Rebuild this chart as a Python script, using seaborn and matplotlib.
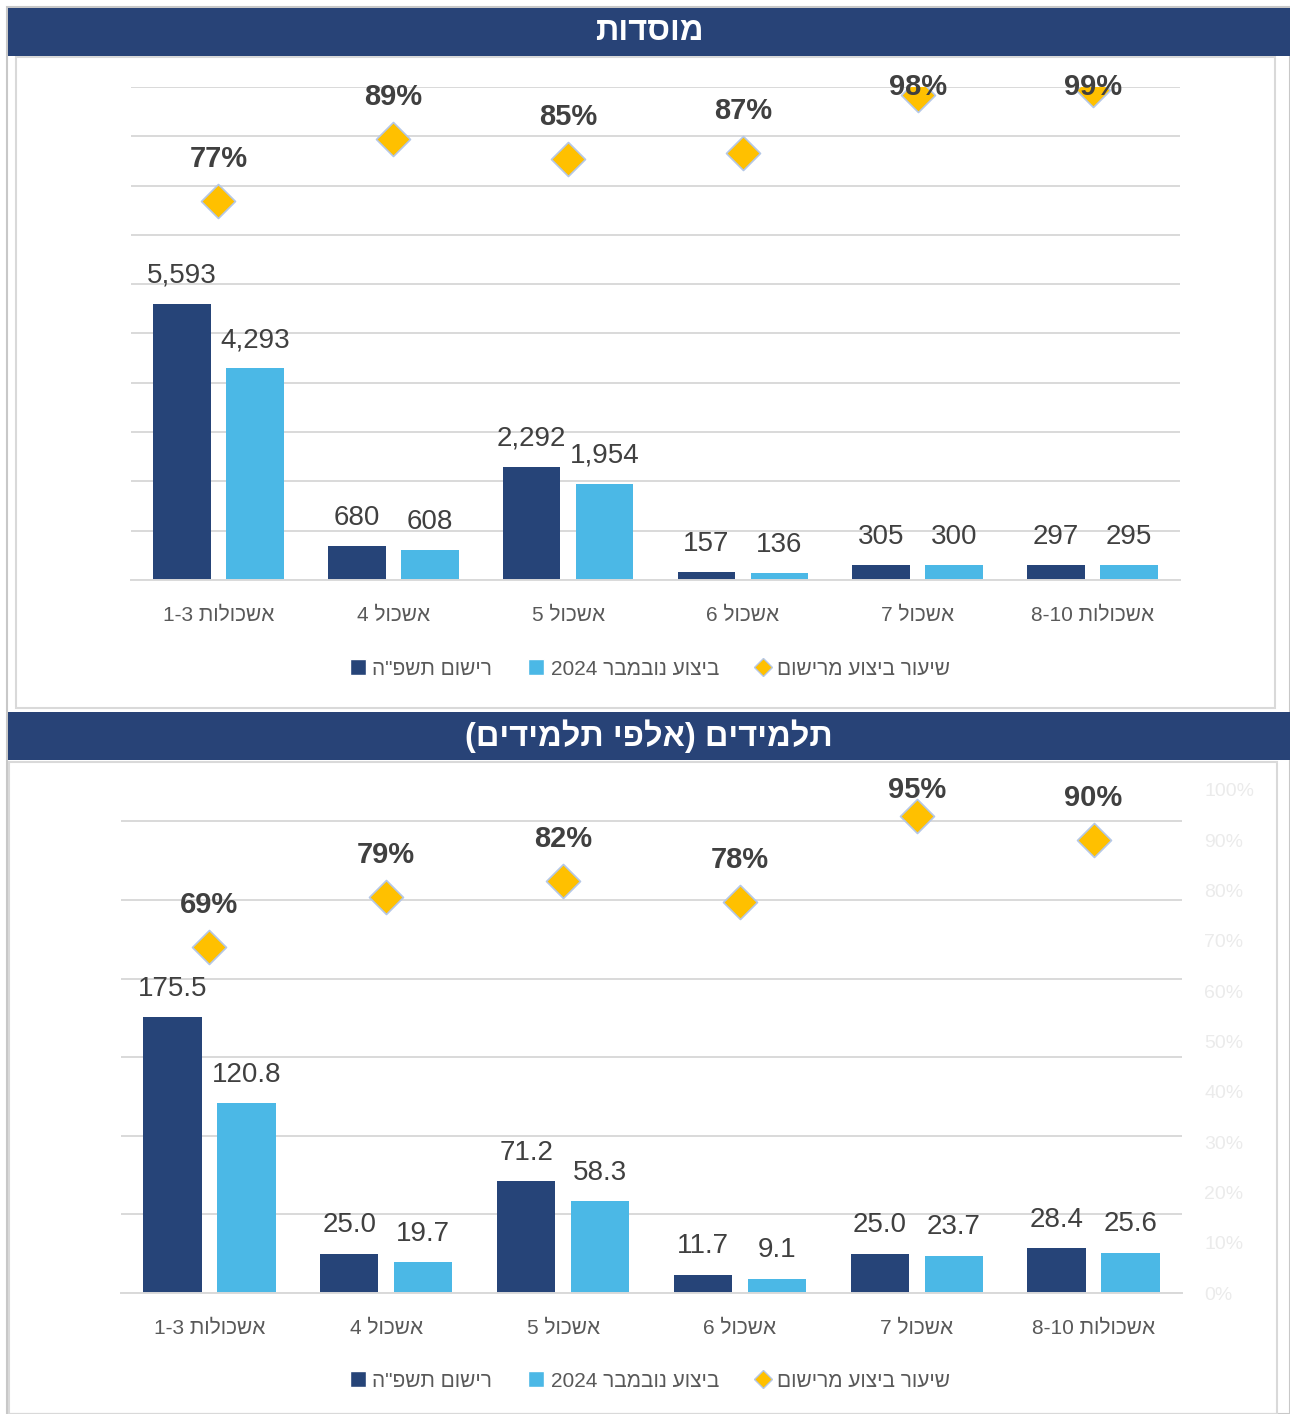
import re
import matplotlib
matplotlib.use("Agg")
import matplotlib.pyplot as plt
from matplotlib.patches import Rectangle, Patch
from matplotlib.lines import Line2D
from matplotlib.ticker import MultipleLocator, PercentFormatter
import pandas as pd
import seaborn as sns

# data
categories = ["אשכולות 1-3", "אשכול 4", "אשכול 5", "אשכול 6", "אשכול 7", "אשכולות 8-10"]
series_names = ['רישום תשפ"ה', "ביצוע נובמבר 2024", "שיעור ביצוע מרישום"]

inst_reg = [5593, 680, 2292, 157, 305, 297]
inst_done = [4293, 608, 1954, 136, 300, 295]
inst_rate = [0.768, 0.894, 0.853, 0.866, 0.984, 0.993]

stud_reg = [175.5, 25.0, 71.2, 11.7, 25.0, 28.4]
stud_done = [120.8, 19.7, 58.3, 9.1, 23.7, 25.6]
stud_rate = [0.688, 0.788, 0.819, 0.778, 0.948, 0.901]

titles = ["מוסדות", "תלמידים (אלפי תלמידים)"]

DARK = "#264478"
LIGHT = "#4BB8E6"
GOLD = "#FFC000"
HEADER = "#284377"
GRID = "#D9D9D9"
TXT = "#404040"


def heb(s):
    # matplotlib has no bidi: build the visual order by hand
    r = s[::-1].translate(str.maketrans("()", ")("))
    return re.sub(r"[0-9A-Za-z][0-9A-Za-z.,\-%]*", lambda m: m.group(0)[::-1], r)


sns.set_theme(style="white")
plt.rcParams["font.family"] = ["Liberation Sans", "DejaVu Sans"]

W, H = 1290, 1414
fig = plt.figure(figsize=(W / 100, H / 100), dpi=100)


def frac(x0, y0, x1, y1):
    return [x0 / W, 1 - y1 / H, (x1 - x0) / W, (y1 - y0) / H]


def box(x0, y0, x1, y1, **kw):
    fig.patches.append(Rectangle((x0 / W, 1 - y1 / H), (x1 - x0) / W, (y1 - y0) / H,
                                 transform=fig.transFigure, **kw))


# outer frame, panel frames and headers
box(7, 7, 1290, 1414, facecolor="none", edgecolor="#C8C8C8", lw=1.5)
box(16, 57, 1275, 708, facecolor="none", edgecolor=GRID, lw=1.5)
box(9, 762, 1277, 1414, facecolor="none", edgecolor=GRID, lw=1.5)
headers = [(8, 56), (712, 760)]
for (y0, y1), t in zip(headers, titles):
    box(8, y0, 1290, y1, facecolor=HEADER, edgecolor="none")
    fig.text(649 / W, 1 - (y0 + y1) / 2 / H, heb(t), color="white", fontsize=23.5,
             fontweight="bold", ha="center", va="center")

panels = [
    dict(reg=inst_reg, done=inst_done, rate=inst_rate, rect=(131, 87, 1180, 580),
         ymax=10000, step=1000, fmt="{:,.0f}", legend_y=669, show_right=False),
    dict(reg=stud_reg, done=stud_done, rate=stud_rate, rect=(121, 790, 1182, 1293),
         ymax=320, step=50, fmt="{:.1f}", legend_y=1381, show_right=True),
]

cats_vis = [heb(c) for c in categories]

for p in panels:
    ax = fig.add_axes(frac(*p["rect"]))
    df = pd.DataFrame({
        "cat": cats_vis * 2,
        "value": p["reg"] + p["done"],
        "series": [series_names[0]] * 6 + [series_names[1]] * 6,
    })
    sns.barplot(data=df, x="cat", y="value", hue="series", order=cats_vis,
                hue_order=series_names[:2], palette=[DARK, LIGHT], width=0.836,
                gap=0.21, linewidth=0, saturation=1, legend=False, ax=ax)
    ax.set_xlim(-0.5, 5.5)
    ax.set_ylim(0, p["ymax"])
    ax.yaxis.set_major_locator(MultipleLocator(p["step"]))
    ax.grid(axis="y", color=GRID, lw=1.4)
    ax.set_axisbelow(True)
    for s in ax.spines.values():
        s.set_visible(False)
    ax.spines["bottom"].set_visible(True)
    ax.spines["bottom"].set_color(GRID)
    ax.spines["bottom"].set_linewidth(1.4)
    ax.set_xlabel("")
    ax.set_ylabel("")
    ax.tick_params(axis="y", left=False, right=False, length=0, labelleft=False)
    ax.tick_params(axis="x", bottom=False, length=0, labelsize=15,
                   labelcolor="#595959", pad=19)

    for cont in ax.containers:
        for bar in cont:
            h = bar.get_height()
            ax.annotate(p["fmt"].format(h), (bar.get_x() + bar.get_width() / 2, h),
                        xytext=(0, 11), textcoords="offset points", ha="center",
                        va="bottom", fontsize=20, color=TXT)

    ax2 = ax.twinx()
    ax2.set_ylim(0, 1)
    ax2.scatter(range(len(cats_vis)), p["rate"], marker="D", s=300, color=GOLD,
                edgecolor="#B4C7E7", linewidth=1.2, zorder=5)
    for s in ax2.spines.values():
        s.set_visible(False)
    ax2.grid(False)
    ax2.yaxis.set_major_locator(MultipleLocator(0.1))
    ax2.yaxis.set_major_formatter(PercentFormatter(1, decimals=0))
    ax2.tick_params(axis="y", left=False, right=False, length=0,
                    labelright=p["show_right"], labelsize=14,
                    labelcolor="#EBEBEB", pad=16)
    ax_h = p["rect"][3] - p["rect"][1]
    off = 42 / ax_h
    for i, r in enumerate(p["rate"]):
        ax2.text(i, min(r + off, 1.0), f"{r:.0%}", ha="center", va="center",
                 fontsize=21, fontweight="bold", color=TXT, clip_on=False, zorder=6)

    handles = [
        Patch(facecolor=DARK, label=heb(series_names[0])),
        Patch(facecolor=LIGHT, label=heb(series_names[1])),
        Line2D([], [], marker="D", ls="none", markersize=9, markerfacecolor=GOLD,
               markeredgecolor="#B4C7E7", label=heb(series_names[2])),
    ]
    fig.legend(handles=handles, loc="center", bbox_to_anchor=(650 / W, 1 - p["legend_y"] / H),
               ncol=3, frameon=False, fontsize=15, labelcolor="#595959",
               handlelength=0.8, handleheight=0.8, handletextpad=0.3, columnspacing=1.7)

fig.savefig("out.png", dpi=100)
